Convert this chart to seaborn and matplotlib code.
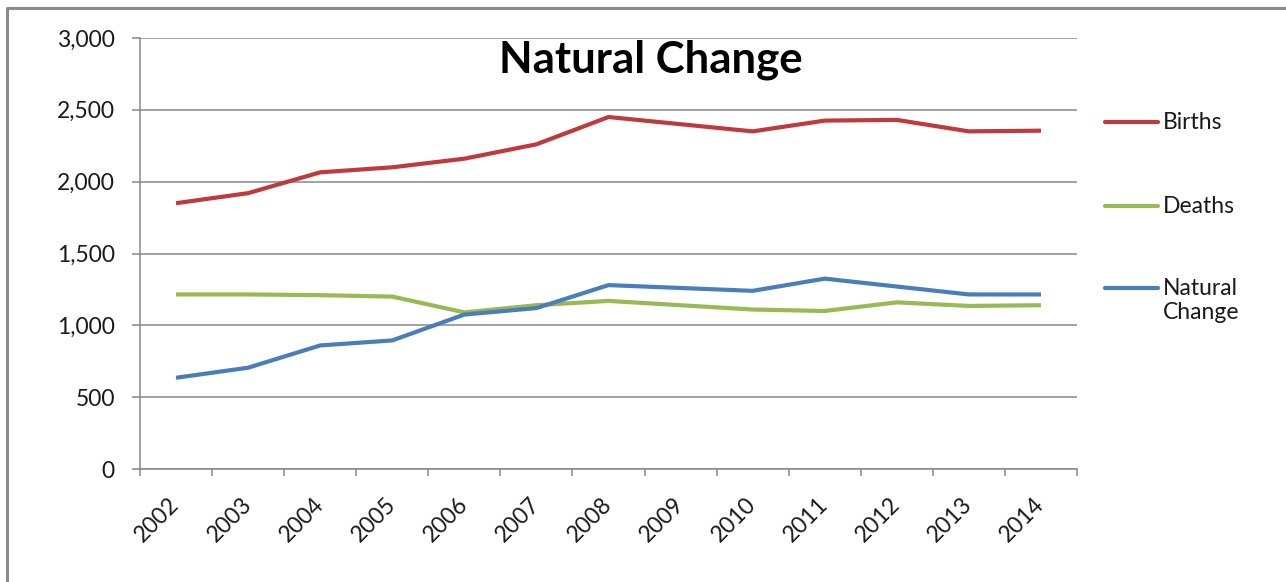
import pandas as pd
import matplotlib
matplotlib.use('Agg')
import matplotlib.pyplot as plt
import seaborn as sns
from matplotlib.lines import Line2D

# Данные
years = ['2002', '2003', '2004', '2005', '2006', '2007', '2008',
         '2009', '2010', '2011', '2012', '2013', '2014']
births = [1850, 1920, 2065, 2100, 2160, 2260, 2450, 2400, 2350, 2425, 2430, 2350, 2355]
deaths = [1215, 1215, 1210, 1200, 1090, 1140, 1170, 1140, 1110, 1100, 1160, 1135, 1140]
natural_change = [635, 705, 860, 895, 1075, 1120, 1280, 1260, 1240, 1325, 1270, 1215, 1215]

series_names = ['Births', 'Deaths', 'Natural Change']
legend_labels = ['Births', 'Deaths', 'Natural\nChange']
colors = ['#C0393D', '#98B954', '#4A7EBB']

data = pd.DataFrame({'Year': years, 'Births': births, 'Deaths': deaths,
                     'Natural Change': natural_change})
long_data = data.melt(id_vars='Year', var_name='Series', value_name='Value')

sns.set_style('white')
plt.rcParams['font.family'] = ['Lato', 'DejaVu Sans']
text_color = '#1a1a1a'
grid_color = '#878787'

fig = plt.figure(figsize=(12.86, 5.82), dpi=100)
ax = fig.add_axes([140 / 1286, 1 - 469 / 582, 937 / 1286, 431 / 582])

sns.lineplot(data=long_data, x='Year', y='Value', hue='Series', hue_order=series_names,
             palette=colors, linewidth=3.0, legend=False, ax=ax, sort=False)
for line in ax.lines:
    line.set_solid_joinstyle('round')
    line.set_solid_capstyle('butt')

ax.set_xlim(-0.5, len(years) - 0.5)
ax.set_ylim(0, 3000)
ax.set_yticks(range(0, 3001, 500))
ax.set_yticklabels([f'{v:,}' for v in range(0, 3001, 500)])
ax.set_xticks(range(len(years)))
ax.set_xticklabels(years, rotation=45, ha='right', va='center', rotation_mode='anchor')
ax.set_xticks([i - 0.5 for i in range(len(years) + 1)], minor=True)
ax.set_xlabel('')
ax.set_ylabel('')

ax.yaxis.grid(True, color=grid_color, linewidth=1.1)
ax.set_axisbelow(True)
for side in ['top', 'right']:
    ax.spines[side].set_visible(False)
for side in ['left', 'bottom']:
    ax.spines[side].set_color(grid_color)
    ax.spines[side].set_linewidth(1.1)

ax.tick_params(axis='y', which='major', length=6, width=1.1, color=grid_color,
               direction='out', pad=12, labelsize=16.5, labelcolor=text_color, left=True)
ax.tick_params(axis='x', which='major', length=0, pad=23, labelsize=16.5, labelcolor=text_color)
ax.tick_params(axis='x', which='minor', length=5, width=1.1, color=grid_color,
               direction='out', bottom=True)

ax.text((651 - 140) / 937, (469 - 60) / 431, 'Natural Change', transform=ax.transAxes,
        ha='center', va='center', fontsize=31.5, fontweight='bold', color='black')

# Легенда справа
legend_y = [122, 206, 288]
for name, color, y in zip(legend_labels, colors, legend_y):
    fy = 1 - y / 582
    fig.add_artist(Line2D([1105 / 1286, 1158 / 1286], [fy, fy], color=color,
                          linewidth=3.0, transform=fig.transFigure))
    fig.text(1163 / 1286, fy + 10 / 582, name, ha='left', va='top', fontsize=16.5,
             color=text_color, linespacing=1.2)

# Рамка области диаграммы
fig.add_artist(Line2D([7 / 1286, 7 / 1286, 1], [0, 1 - 8 / 582, 1 - 8 / 582],
                      color='#8c8c8c', linewidth=2.2, transform=fig.transFigure))

fig.savefig('out.png', dpi=100)
